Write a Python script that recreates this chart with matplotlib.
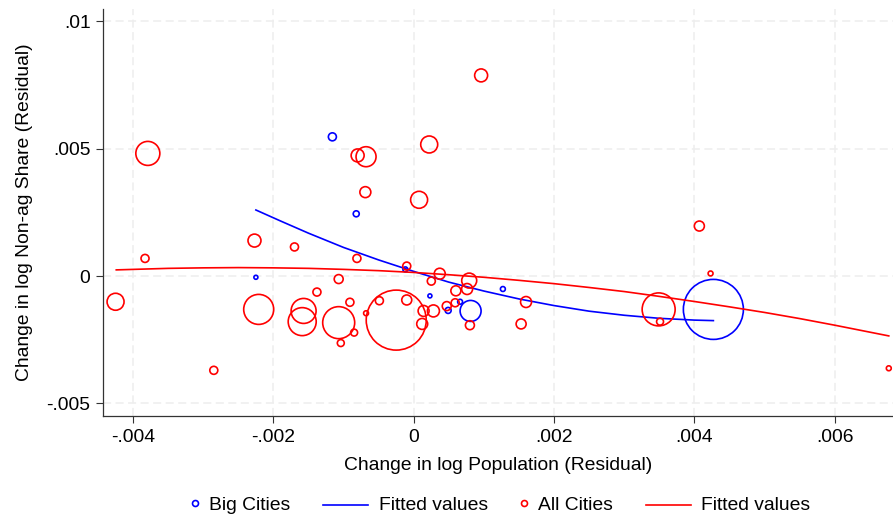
import numpy as np
import matplotlib
matplotlib.use('Agg')
import matplotlib.pyplot as plt
from matplotlib.lines import Line2D
from matplotlib.offsetbox import DrawingArea, TextArea, HPacker, AnchoredOffsetbox

plt.rcParams['font.family'] = ['Liberation Sans', 'DejaVu Sans']

# Big cities (residuals) and their population weights
big_x = [-0.00116, -0.00082, -0.00225, -0.00012, 0.00023, 0.00066, 0.00049, 0.00081, 0.00127, 0.00427]
big_y = [0.00546, 0.00244, -0.00005, 0.00026, -0.00078, -0.00101, -0.00135, -0.00137, -0.00051, -0.00131]
big_w = [16, 9, 4, 6, 4, 6, 9, 110, 6, 900]

# quadratic fit, big cities
big_fit_x = [-0.00225, -0.0019, -0.0015, -0.001, -0.0005, 0.0, 0.0005, 0.001, 0.0015,
             0.002, 0.0025, 0.003, 0.0035, 0.004, 0.00427]
big_fit_y = [0.00259, 0.00216, 0.00168, 0.00112, 0.00063, 0.00018, -0.00024, -0.00059, -0.00090,
             -0.00116, -0.00138, -0.00154, -0.00166, -0.00173, -0.00175]

# All cities
all_x = [-0.00379, -0.00080, -0.00068, -0.00069, 0.00096, 0.00022, 0.000076, -0.00425, -0.00383,
         -0.00227, -0.00285, -0.00221, -0.00170, -0.00138, -0.00157, -0.00159, -0.00107, -0.00091,
         -0.00107, -0.00104, -0.00085, -0.00081, -0.00068, -0.00049, -0.00025, -0.00010, 0.00037,
         0.00025, 0.00079, 0.00076, 0.00060, -0.00010, 0.00059, 0.00047, 0.00028, 0.00014, 0.00012,
         0.00080, 0.00160, 0.00153, 0.00349, 0.00351, 0.00407, 0.00423, 0.00677]
all_y = [0.00481, 0.00473, 0.00468, 0.00329, 0.00787, 0.00516, 0.00299, -0.00101, 0.00069,
         0.00139, -0.00370, -0.00131, 0.00114, -0.00063, -0.00137, -0.00179, -0.00012, -0.00103,
         -0.00183, -0.00263, -0.00222, 0.00069, -0.00146, -0.00097, -0.00173, 0.00039, 0.00009,
         -0.00020, -0.00018, -0.00051, -0.00058, -0.00094, -0.00105, -0.00118, -0.00137, -0.00137, -0.00188,
         -0.00193, -0.00102, -0.00188, -0.00131, -0.00179, 0.00196, 0.00010, -0.00362]
all_w = [144, 42, 100, 30, 42, 72, 72, 72, 16,
         42, 16, 225, 16, 16, 156, 196, 20, 16,
         256, 12, 12, 16, 6, 16, 900, 16, 30,
         16, 56, 30, 25, 25, 16, 20, 36, 30, 30,
         20, 30, 25, 272, 12, 25, 6, 6]

# quadratic fit, all cities
all_fit_x = [-0.00424, -0.0035, -0.003, -0.0025, -0.002, -0.0015, -0.001, -0.0005, 0.0, 0.0005, 0.001,
             0.0015, 0.002, 0.0025, 0.003, 0.0035, 0.004, 0.0045, 0.005, 0.0055, 0.006, 0.00677]
all_fit_y = [0.00024, 0.00030, 0.00032, 0.00033, 0.00032, 0.00030, 0.00026, 0.00021, 0.00014, 0.00005,
             -0.00005, -0.00017, -0.00030, -0.00045, -0.00061, -0.00080, -0.00100, -0.00121, -0.00143,
             -0.00167, -0.00193, -0.00235]

xticks = [-0.004, -0.002, 0.0, 0.002, 0.004, 0.006]
xtick_labels = ['-.004', '-.002', '0', '.002', '.004', '.006']
yticks = [-0.005, 0.0, 0.005, 0.01]
ytick_labels = ['-.005', '0', '.005', '.01']

FS = 13.9
BLUE = '#0000ff'
RED = '#ff0000'

fig = plt.figure(figsize=(8.93, 5.17), dpi=100)
ax = fig.add_axes([103 / 893, 101 / 517, 790 / 893, 407 / 517])

# weight -> marker area (radius in px squared -> diameter in points squared)
k = (2 * 0.72) ** 2
ax.scatter(big_x, big_y, s=np.array(big_w) * k, facecolors='none', edgecolors=BLUE, linewidths=1.2, zorder=3)
ax.plot(big_fit_x, big_fit_y, color=BLUE, lw=1.2, zorder=4)
ax.scatter(all_x, all_y, s=np.array(all_w) * k, facecolors='none', edgecolors=RED, linewidths=1.2, zorder=5)
ax.plot(all_fit_x, all_fit_y, color=RED, lw=1.2, zorder=6)

ax.set_xlim(-0.004429, 0.00683)
ax.set_ylim(-0.005492, 0.010475)
ax.set_xticks(xticks)
ax.set_xticklabels(xtick_labels)
ax.set_yticks(yticks)
ax.set_yticklabels(ytick_labels)
ax.tick_params(axis='both', direction='out', length=5, width=0.8, color='#333333',
               labelsize=FS, pad=4)

ax.grid(True, color='#eeeeee', linestyle=(0, (5.3, 2.9)), linewidth=1.1)
ax.set_axisbelow(True)
for side in ['top', 'right']:
    ax.spines[side].set_visible(False)
for side in ['left', 'bottom']:
    ax.spines[side].set_color('#333333')
    ax.spines[side].set_linewidth(0.9)

ax.set_xlabel('Change in log Population (Residual)', fontsize=FS, labelpad=8)
ax.set_ylabel('Change in log Non-ag Share (Residual)', fontsize=FS, labelpad=10)

# legend: Stata-like keys (short marker keys, long line keys)
def marker_key(color):
    da = DrawingArea(5, 10, 0, 0)
    da.add_artist(Line2D([2.5], [7], marker='o', ms=4.3, mfc='none', mec=color, mew=1.2, ls='none'))
    return da

def line_key(color):
    da = DrawingArea(32.4, 10, 0, 0)
    da.add_artist(Line2D([0, 32.4], [6, 6], color=color, lw=1.2))
    return da

def entry(key, label, sep):
    txt = TextArea(label, textprops=dict(fontsize=FS))
    return HPacker(children=[key, txt], align='center', pad=0, sep=sep)

entries = [
    entry(marker_key(BLUE), 'Big Cities', 7.6),
    entry(line_key(BLUE), 'Fitted values', 7.9),
    entry(marker_key(RED), 'All Cities', 7.6),
    entry(line_key(RED), 'Fitted values', 7.9),
]
pack = HPacker(children=entries, align='center', pad=0, sep=23.5)
leg = AnchoredOffsetbox(loc='center', child=pack, pad=0, borderpad=0, frameon=False,
                        bbox_to_anchor=(501 / 893, 11 / 517), bbox_transform=fig.transFigure)
fig.add_artist(leg)

fig.savefig('out.png', dpi=100)
